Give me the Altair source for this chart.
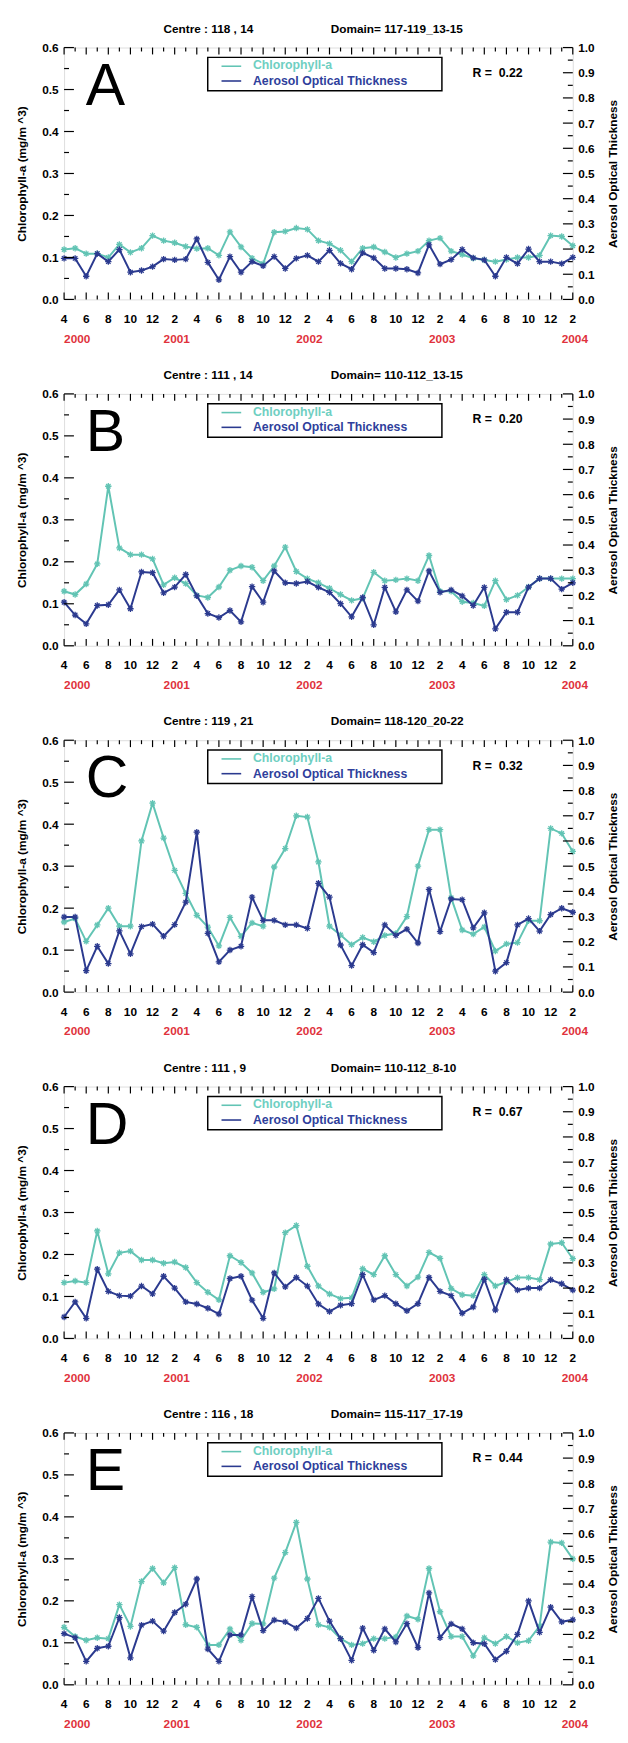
import altair as alt
import pandas as pd

# ---------------- data ----------------
months_t = list(range(47))  # index 0 = Apr 2000 ... 46 = Feb 2004
x_tick_values = [0, 2, 4, 6, 8, 10, 12, 14, 16, 18, 20, 22, 24, 26, 28, 30, 32, 34, 36, 38, 40, 42, 44, 46]
x_tick_labels = ["4", "6", "8", "10", "12", "2", "4", "6", "8", "10", "12", "2",
                 "4", "6", "8", "10", "12", "2", "4", "6", "8", "10", "12", "2"]
x_minor_ticks = [1, 3, 5, 7, 9, 11, 13, 15, 17, 19, 21, 23, 25, 27, 29, 31, 33, 35, 37, 39, 41, 43, 45]
year_labels = ["2000", "2001", "2002", "2003", "2004"]
year_pos = [0, 9, 21, 33, 45]
chl_ticks_major = [0.0, 0.1, 0.2, 0.3, 0.4, 0.5, 0.6]
chl_ticks_minor = [0.05, 0.15, 0.25, 0.35, 0.45, 0.55]
aot_ticks_major = [0.0, 0.1, 0.2, 0.3, 0.4, 0.5, 0.6, 0.7, 0.8, 0.9, 1.0]
aot_ticks_minor = [0.05, 0.15, 0.25, 0.35, 0.45, 0.55, 0.65, 0.75, 0.85, 0.95]

chl_A = [0.119, 0.122, 0.109, 0.109, 0.100, 0.131, 0.112, 0.122, 0.152, 0.140,
         0.135, 0.126, 0.121, 0.122, 0.105, 0.161, 0.125, 0.098, 0.085, 0.160,
         0.162, 0.170, 0.167, 0.140, 0.133, 0.117, 0.090, 0.122, 0.125, 0.113,
         0.100, 0.109, 0.115, 0.140, 0.146, 0.115, 0.107, 0.098, 0.094, 0.090,
         0.095, 0.100, 0.100, 0.105, 0.152, 0.150, 0.128]
aot_A = [0.163, 0.163, 0.092, 0.182, 0.150, 0.198, 0.108, 0.115, 0.130, 0.160,
         0.157, 0.160, 0.240, 0.147, 0.078, 0.170, 0.108, 0.150, 0.133, 0.170,
         0.123, 0.163, 0.175, 0.150, 0.195, 0.143, 0.120, 0.185, 0.165, 0.123,
         0.123, 0.120, 0.105, 0.217, 0.140, 0.158, 0.198, 0.165, 0.157, 0.092,
         0.167, 0.142, 0.200, 0.150, 0.150, 0.142, 0.167]

chl_B = [0.130, 0.122, 0.147, 0.195, 0.380, 0.233, 0.217, 0.217, 0.207, 0.145,
         0.162, 0.148, 0.120, 0.115, 0.140, 0.180, 0.190, 0.187, 0.155, 0.190,
         0.235, 0.177, 0.160, 0.150, 0.137, 0.122, 0.108, 0.113, 0.175, 0.155,
         0.157, 0.160, 0.155, 0.215, 0.130, 0.130, 0.105, 0.102, 0.095, 0.155,
         0.110, 0.120, 0.140, 0.160, 0.160, 0.160, 0.160]
aot_B = [0.173, 0.122, 0.087, 0.160, 0.163, 0.222, 0.147, 0.293, 0.290, 0.210,
         0.233, 0.283, 0.198, 0.128, 0.112, 0.140, 0.095, 0.235, 0.173, 0.297,
         0.250, 0.247, 0.255, 0.232, 0.212, 0.167, 0.115, 0.192, 0.083, 0.232,
         0.135, 0.222, 0.177, 0.297, 0.212, 0.222, 0.198, 0.160, 0.232, 0.067,
         0.133, 0.133, 0.233, 0.267, 0.267, 0.225, 0.250]

chl_C = [0.167, 0.175, 0.121, 0.160, 0.200, 0.157, 0.157, 0.360, 0.450, 0.367,
         0.290, 0.235, 0.183, 0.155, 0.110, 0.178, 0.133, 0.165, 0.157, 0.298,
         0.342, 0.420, 0.417, 0.310, 0.157, 0.136, 0.113, 0.130, 0.120, 0.135,
         0.140, 0.180, 0.300, 0.387, 0.387, 0.225, 0.148, 0.138, 0.155, 0.098,
         0.115, 0.118, 0.170, 0.170, 0.390, 0.378, 0.335]
aot_C = [0.298, 0.298, 0.085, 0.182, 0.113, 0.243, 0.152, 0.260, 0.270, 0.222,
         0.268, 0.357, 0.635, 0.233, 0.120, 0.167, 0.182, 0.377, 0.285, 0.285,
         0.267, 0.267, 0.253, 0.432, 0.377, 0.187, 0.105, 0.188, 0.157, 0.267,
         0.225, 0.250, 0.195, 0.408, 0.240, 0.370, 0.367, 0.255, 0.315, 0.083,
         0.117, 0.267, 0.292, 0.242, 0.308, 0.333, 0.317]

chl_D = [0.133, 0.137, 0.133, 0.256, 0.154, 0.204, 0.208, 0.187, 0.187, 0.179,
         0.182, 0.169, 0.133, 0.110, 0.092, 0.197, 0.181, 0.156, 0.110, 0.118,
         0.252, 0.269, 0.172, 0.125, 0.106, 0.095, 0.097, 0.166, 0.152, 0.197,
         0.152, 0.125, 0.146, 0.205, 0.191, 0.119, 0.104, 0.102, 0.152, 0.125,
         0.135, 0.145, 0.145, 0.140, 0.225, 0.228, 0.190]
aot_D = [0.085, 0.145, 0.080, 0.275, 0.187, 0.170, 0.168, 0.208, 0.177, 0.247,
         0.200, 0.145, 0.137, 0.120, 0.097, 0.238, 0.247, 0.152, 0.080, 0.260,
         0.205, 0.242, 0.208, 0.137, 0.107, 0.132, 0.138, 0.253, 0.153, 0.170,
         0.138, 0.110, 0.138, 0.242, 0.187, 0.170, 0.100, 0.125, 0.235, 0.113,
         0.233, 0.192, 0.200, 0.200, 0.233, 0.217, 0.192]

chl_E = [0.137, 0.115, 0.106, 0.112, 0.110, 0.191, 0.139, 0.246, 0.277, 0.243,
         0.279, 0.143, 0.137, 0.095, 0.095, 0.133, 0.106, 0.146, 0.145, 0.254,
         0.315, 0.387, 0.252, 0.143, 0.137, 0.110, 0.095, 0.098, 0.110, 0.110,
         0.114, 0.164, 0.156, 0.277, 0.174, 0.115, 0.115, 0.069, 0.112, 0.098,
         0.115, 0.100, 0.105, 0.140, 0.340, 0.338, 0.300]
aot_E = [0.203, 0.187, 0.093, 0.145, 0.153, 0.267, 0.107, 0.237, 0.253, 0.213,
         0.287, 0.320, 0.420, 0.142, 0.093, 0.198, 0.198, 0.350, 0.215, 0.257,
         0.250, 0.225, 0.263, 0.343, 0.253, 0.183, 0.097, 0.225, 0.137, 0.222,
         0.170, 0.243, 0.148, 0.365, 0.187, 0.242, 0.222, 0.167, 0.163, 0.100,
         0.133, 0.200, 0.333, 0.208, 0.308, 0.250, 0.258]

panel_letters = ["A", "B", "C", "D", "E"]
panel_centres = ["Centre : 118 , 14", "Centre : 111 , 14", "Centre : 119 , 21",
                 "Centre : 111 , 9", "Centre : 116 , 18"]
panel_domains = ["Domain= 117-119_13-15", "Domain= 110-112_13-15", "Domain= 118-120_20-22",
                 "Domain= 110-112_8-10", "Domain= 115-117_17-19"]
panel_r = ["0.22", "0.20", "0.32", "0.67", "0.44"]
panel_chl = [chl_A, chl_B, chl_C, chl_D, chl_E]
panel_aot = [aot_A, aot_B, aot_C, aot_D, aot_E]

# ---------------- style ----------------
FONT = "Liberation Sans"
TEAL = "#62c4b4"
BLUE = "#2b3a8f"
TEAL_TXT = "#6fcfc2"
BLUE_TXT = "#2f3f9c"
RED = "#e0323c"
W, H = 517, 256
STAR = "M-1,0L1,0M0,-1L0,1M-0.7,-0.7L0.7,0.7M-0.7,0.7L0.7,-0.7"


def panel(i):
    df = pd.DataFrame({"t": months_t, "chl": panel_chl[i], "aot": panel_aot[i]})
    one = pd.DataFrame({"k": [0]})
    xs = alt.Scale(domain=[0, 46], nice=False, zero=False)
    ysc = alt.Scale(domain=[0, 0.6], nice=False, zero=False)
    ysa = alt.Scale(domain=[0, 1.0], nice=False, zero=False)

    left_axis = alt.Axis(values=chl_ticks_major, format=".1f", ticks=False, tickSize=0,
                         domain=False, grid=False, labelFont=FONT, labelFontSize=12,
                         labelFontWeight="bold", labelColor="black", labelPadding=6,
                         title="Chlorophyll-a (mg/m ^3)", titleFont=FONT, titleFontSize=12,
                         titleFontWeight="bold", titleColor="black", titlePadding=14)
    right_axis = alt.Axis(values=aot_ticks_major, format=".1f", orient="right", ticks=False,
                          tickSize=0, domain=False, grid=False, labelFont=FONT, labelFontSize=12,
                          labelFontWeight="bold", labelColor="black", labelPadding=5,
                          title="Aerosol Optical Thickness", titleFont=FONT, titleFontSize=12,
                          titleFontWeight="bold", titleColor="black", titlePadding=14,
                          titleAngle=270, titleBaseline="top")

    base = alt.Chart(df)
    chl_line = base.mark_line(color=TEAL, strokeWidth=2).encode(
        x=alt.X("t:Q", scale=xs, axis=None),
        y=alt.Y("chl:Q", scale=ysc, axis=left_axis))
    chl_pts = base.mark_point(shape=STAR, color=TEAL, size=42, strokeWidth=1.3, filled=False,
                              opacity=1).encode(
        x=alt.X("t:Q", scale=xs, axis=None),
        y=alt.Y("chl:Q", scale=ysc, axis=None))
    aot_line = base.mark_line(color=BLUE, strokeWidth=2).encode(
        x=alt.X("t:Q", scale=xs, axis=None),
        y=alt.Y("aot:Q", scale=ysa, axis=right_axis))
    aot_pts = base.mark_point(shape=STAR, color=BLUE, size=42, strokeWidth=1.3, filled=False,
                              opacity=1).encode(
        x=alt.X("t:Q", scale=xs, axis=None),
        y=alt.Y("aot:Q", scale=ysa, axis=None))

    # inward ticks
    xmaj = pd.DataFrame({"t": x_tick_values})
    xmin = pd.DataFrame({"t": x_minor_ticks})
    tick_layers = []
    for d, ln in ((xmaj, 7), (xmin, 4)):
        tick_layers.append(alt.Chart(d).mark_rule(color="black", strokeWidth=1.2).encode(
            x=alt.X("t:Q", scale=xs, axis=None), y=alt.value(H), y2=alt.value(H - ln)))
        tick_layers.append(alt.Chart(d).mark_rule(color="black", strokeWidth=1.2).encode(
            x=alt.X("t:Q", scale=xs, axis=None), y=alt.value(0), y2=alt.value(ln)))
    for vals, ln in ((chl_ticks_major, 10), (chl_ticks_minor, 5)):
        tick_layers.append(alt.Chart(pd.DataFrame({"v": vals})).mark_rule(
            color="black", strokeWidth=1.2).encode(
            y=alt.Y("v:Q", scale=ysc, axis=None), x=alt.value(0), x2=alt.value(ln)))
    for vals, ln in ((aot_ticks_major, 10), (aot_ticks_minor, 5)):
        tick_layers.append(alt.Chart(pd.DataFrame({"v": vals})).mark_rule(
            color="black", strokeWidth=1.2).encode(
            y=alt.Y("v:Q", scale=ysa, axis=None), x=alt.value(W), x2=alt.value(W - ln)))

    # month labels along the bottom
    month_lbl = alt.Chart(pd.DataFrame({"t": x_tick_values, "s": x_tick_labels})).mark_text(
        align="center", baseline="middle", font=FONT, fontSize=12, fontWeight="bold",
        color="black").encode(x=alt.X("t:Q", scale=xs, axis=None), y=alt.value(H + 20),
                              text="s:N")
    # year labels under the month labels
    years = alt.Chart(pd.DataFrame({"t": year_pos, "y": year_labels})).mark_text(
        align="left", baseline="middle", font=FONT, fontSize=12, fontWeight="bold",
        color=RED).encode(x=alt.X("t:Q", scale=xs, axis=None), y=alt.value(H + 40),
                          text="y:N")

    # panel header
    centre = alt.Chart(pd.DataFrame({"s": [panel_centres[i]]})).mark_text(
        align="left", baseline="middle", font=FONT, fontSize=12, fontWeight="bold",
        color="black").encode(x=alt.value(101), y=alt.value(-19), text="s:N")
    domain = alt.Chart(pd.DataFrame({"s": [panel_domains[i]]})).mark_text(
        align="left", baseline="middle", font=FONT, fontSize=12, fontWeight="bold",
        color="black").encode(x=alt.value(271), y=alt.value(-19), text="s:N")

    letter = alt.Chart(pd.DataFrame({"s": [panel_letters[i]]})).mark_text(
        align="left", baseline="alphabetic", font=FONT, fontSize=60, fontWeight="normal",
        color="black").encode(x=alt.value(22), y=alt.value(58), text="s:N")
    rtext = alt.Chart(pd.DataFrame({"s": ["R =\u00a0\u00a0" + panel_r[i]]})).mark_text(
        align="left", baseline="middle", font=FONT, fontSize=12.5, fontWeight="bold",
        color="black").encode(x=alt.value(415), y=alt.value(26), text="s:N")

    # legend box
    box = alt.Chart(one).mark_rect(fill="white", stroke="black", strokeWidth=1.5).encode(
        x=alt.value(146), x2=alt.value(384), y=alt.value(10), y2=alt.value(44))
    leg_l1 = alt.Chart(one).mark_rule(color=TEAL, strokeWidth=1.6).encode(
        x=alt.value(160), x2=alt.value(180), y=alt.value(19))
    leg_l2 = alt.Chart(one).mark_rule(color=BLUE, strokeWidth=1.6).encode(
        x=alt.value(160), x2=alt.value(180), y=alt.value(34))
    leg_t1 = alt.Chart(pd.DataFrame({"s": ["Chlorophyll-a"]})).mark_text(
        align="left", baseline="middle", font=FONT, fontSize=12.5, fontWeight="bold",
        color=TEAL_TXT).encode(x=alt.value(192), y=alt.value(18), text="s:N")
    leg_t2 = alt.Chart(pd.DataFrame({"s": ["Aerosol Optical Thickness"]})).mark_text(
        align="left", baseline="middle", font=FONT, fontSize=12.5, fontWeight="bold",
        color=BLUE_TXT).encode(x=alt.value(192), y=alt.value(34), text="s:N")

    layers = [chl_line, chl_pts, aot_line, aot_pts] + tick_layers + [
        month_lbl, years, centre, domain, letter, rtext, box, leg_l1, leg_l2, leg_t1, leg_t2]
    return alt.layer(*layers).resolve_scale(y="independent").properties(width=W, height=H)


chart = alt.vconcat(*[panel(i) for i in range(5)], spacing=23).properties(
    padding={"left": 6, "right": 0, "top": 0, "bottom": 0}
).configure_view(stroke="black", strokeWidth=1.6).configure(background="white")

chart.save("out.html", embed_options={"renderer": "svg", "actions": False})
